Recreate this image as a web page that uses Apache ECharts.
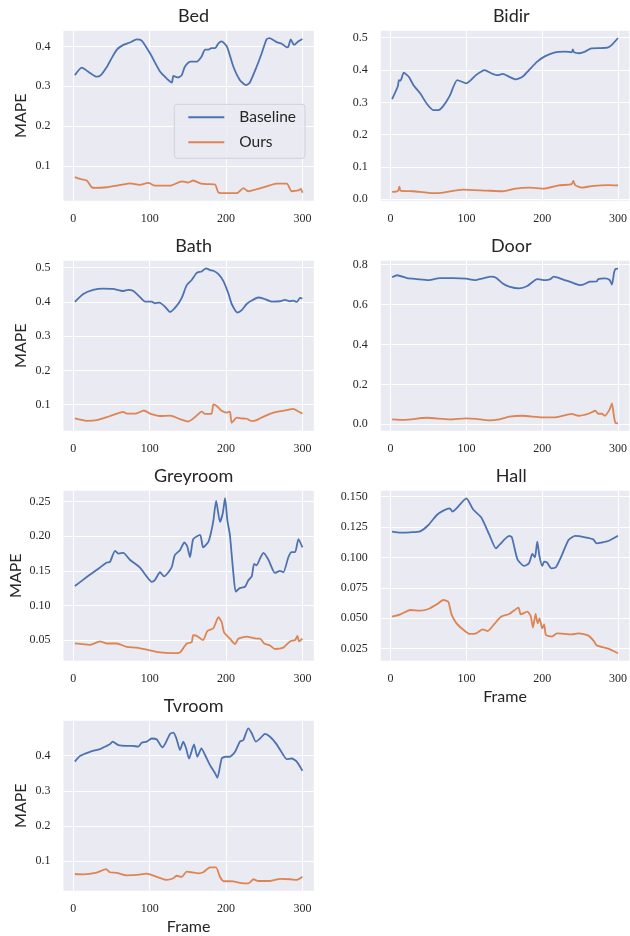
<!DOCTYPE html>
<html><head><meta charset="utf-8">
<script src="https://cdn.jsdelivr.net/npm/echarts@6/dist/echarts.min.js"></script>
<style>html,body{margin:0;padding:0;background:#fff}#c{width:630px;height:936px}</style>
</head><body><div id="c"></div>
<script>
// ---------------- DATA ----------------
const panelNames = ['Bed', 'Bidir', 'Bath', 'Door', 'Greyroom', 'Hall', 'Tvroom'];
const seriesNames = ['Baseline', 'Ours'];
const xTickLabels = ['0', '100', '200', '300'];
const xRange = [-12.9, 314.9];

// [frame, MAPE]
const bedBaseline = [[2,0.328],[11,0.347],[20,0.336],[30.5,0.324],[36,0.328],[44,0.349],[50,0.370],[57,0.392],[65.5,0.404],[74,0.410],[83,0.418],[89.5,0.415],[100.4,0.383],[113.5,0.337],[122,0.320],[129,0.309],[131,0.326],[137.5,0.322],[142,0.328],[146,0.349],[153,0.362],[161.6,0.362],[168,0.375],[172.5,0.392],[177,0.392],[181,0.396],[185.6,0.396],[190,0.408],[194,0.413],[201,0.400],[209.6,0.349],[218,0.316],[226,0.303],[231,0.309],[240,0.349],[246.7,0.383],[253,0.418],[257,0.421],[266,0.411],[273,0.407],[279.5,0.398],[281.7,0.400],[284.7,0.418],[289,0.404],[294.8,0.413],[300,0.419]];
const bedOurs = [[2,0.0714],[8.7,0.0671],[17.5,0.063],[24,0.046],[28,0.0444],[43.7,0.046],[57,0.050],[74,0.056],[87,0.052],[98,0.057],[107,0.050],[126.6,0.050],[142,0.061],[150.6,0.058],[157,0.063],[166,0.056],[174.7,0.054],[185.6,0.053],[190,0.033],[201,0.031],[214,0.031],[222.7,0.044],[229,0.036],[240,0.041],[253,0.048],[266,0.055],[279.5,0.055],[286,0.036],[294.8,0.038],[298,0.042],[300,0.032]];

const bidirBaseline = [[2,0.310],[9.6,0.350],[11,0.369],[13,0.367],[17.4,0.392],[24,0.379],[30,0.354],[39,0.328],[48,0.295],[56.5,0.276],[63,0.276],[69.6,0.289],[78,0.320],[88,0.369],[100,0.359],[113,0.385],[124,0.400],[132.6,0.390],[141,0.384],[148,0.388],[156.5,0.379],[165,0.371],[174,0.379],[182.6,0.400],[193.5,0.426],[204,0.443],[217,0.455],[230,0.457],[239,0.455],[240.4,0.464],[242,0.455],[248.7,0.452],[256.5,0.457],[265,0.467],[278,0.468],[287,0.470],[293.5,0.482],[300,0.499]];
const bidirOurs = [[2,0.023],[9.6,0.026],[11.7,0.039],[13,0.027],[30,0.025],[56.5,0.019],[69.6,0.021],[95.6,0.030],[126,0.027],[148,0.025],[165,0.033],[182.6,0.036],[202,0.033],[221.7,0.043],[239,0.047],[241,0.057],[243.5,0.044],[252,0.036],[265,0.041],[287,0.044],[300,0.043]];

const bathBaseline = [[2,0.400],[13,0.423],[26,0.435],[39,0.439],[52,0.438],[65.5,0.432],[72,0.435],[78.6,0.432],[87,0.415],[94,0.401],[102.6,0.401],[107,0.396],[112.7,0.398],[120,0.386],[126.6,0.371],[135,0.388],[142,0.412],[148.5,0.449],[155,0.464],[161.6,0.485],[168,0.489],[173.8,0.498],[179,0.493],[183.4,0.491],[190,0.481],[196.5,0.461],[203,0.425],[207.4,0.394],[215,0.369],[220.5,0.376],[227,0.394],[233.6,0.404],[242,0.413],[249,0.410],[260,0.401],[270.7,0.402],[277,0.406],[284,0.402],[288,0.404],[292.6,0.400],[297,0.412],[300,0.410]];
const bathOurs = [[2,0.060],[17.5,0.053],[30.5,0.055],[48,0.067],[65.5,0.079],[70,0.074],[83,0.075],[92.5,0.083],[100.4,0.074],[113.5,0.067],[126.6,0.068],[139.7,0.058],[150.6,0.051],[159.4,0.064],[168,0.080],[172.5,0.073],[181,0.074],[183.4,0.101],[187.8,0.096],[194.3,0.082],[201,0.077],[205,0.080],[207.4,0.047],[214,0.062],[220.5,0.060],[227,0.059],[233.6,0.052],[240,0.055],[249,0.065],[262,0.077],[279.5,0.084],[288,0.088],[294.8,0.080],[300,0.074]];

const doorBaseline = [[2,0.737],[8.7,0.747],[21.7,0.733],[34.8,0.728],[50,0.723],[65,0.733],[82.6,0.733],[100,0.730],[111,0.723],[122,0.732],[132.6,0.740],[139,0.735],[148,0.706],[156.5,0.690],[169.6,0.681],[180.4,0.693],[193.5,0.728],[204,0.723],[210.9,0.728],[215,0.740],[226,0.728],[239,0.711],[250,0.698],[254,0.700],[263,0.715],[271.7,0.716],[274,0.728],[282.6,0.731],[289,0.723],[292,0.700],[294.8,0.760],[296.5,0.778],[300,0.780]];
const doorOurs = [[2,0.025],[17.4,0.022],[48,0.033],[78,0.025],[100,0.030],[113,0.027],[130,0.020],[143.5,0.025],[156.5,0.038],[174,0.043],[200,0.035],[217,0.035],[239,0.052],[248,0.043],[261,0.053],[270,0.068],[274,0.053],[278.6,0.053],[282.6,0.043],[289,0.075],[292,0.105],[294.8,0.038],[296.5,0.008],[300,0.005]];

const greyroomBaseline = [[2,0.128],[17.5,0.141],[35,0.155],[43.7,0.162],[48,0.163],[54.6,0.179],[59,0.175],[65.5,0.176],[74,0.166],[87,0.155],[96,0.142],[102.6,0.134],[107,0.137],[113.5,0.148],[119,0.142],[124.5,0.148],[129,0.156],[133,0.173],[139.7,0.180],[145.4,0.191],[149,0.186],[152.8,0.170],[157,0.196],[166,0.202],[170,0.184],[176.8,0.192],[180,0.204],[183.4,0.223],[187,0.251],[192,0.221],[195.6,0.233],[198.7,0.255],[201.7,0.223],[205,0.202],[209.6,0.146],[212.7,0.120],[218,0.125],[224.9,0.127],[229,0.136],[233.6,0.142],[236.7,0.160],[240,0.158],[244.5,0.168],[249,0.176],[255.5,0.166],[264,0.147],[270.7,0.150],[275,0.148],[281.7,0.170],[286,0.177],[290.4,0.177],[294.8,0.196],[300,0.184]];
const greyroomOurs = [[2,0.045],[21.8,0.043],[35,0.048],[43.7,0.045],[57,0.045],[70,0.040],[83,0.039],[96,0.036],[113.5,0.032],[131,0.031],[139.7,0.032],[148.5,0.045],[155,0.047],[157,0.057],[161.6,0.056],[170,0.050],[175.5,0.063],[183.4,0.067],[190,0.083],[194.3,0.076],[197.4,0.061],[205,0.052],[211.8,0.044],[216,0.052],[227,0.055],[240,0.052],[244.5,0.052],[249.8,0.045],[257.6,0.042],[264,0.037],[275,0.039],[283.8,0.048],[290.4,0.050],[293.5,0.056],[295.6,0.048],[300,0.052]];

const hallBaseline = [[2,0.1212],[13,0.1204],[26,0.1207],[39,0.1215],[50,0.1267],[61,0.1349],[69.6,0.1385],[78,0.1404],[81.7,0.1377],[87,0.1404],[100,0.1486],[108.7,0.1396],[119.5,0.1330],[130.4,0.1185],[139,0.1075],[143.5,0.1103],[156.5,0.1177],[160,0.1166],[167.4,0.0985],[176,0.0930],[182.6,0.0952],[187,0.1029],[190.4,0.1001],[193.5,0.1130],[196.5,0.1007],[200,0.0930],[202.6,0.0965],[206.5,0.0957],[212,0.0911],[218,0.0919],[226,0.1020],[234.8,0.1144],[243.5,0.1177],[256.5,0.1166],[267.4,0.1149],[271.7,0.1116],[278,0.1122],[287,0.1135],[300,0.1179]];
const hallOurs = [[2,0.0513],[13,0.0532],[26,0.0568],[39,0.0563],[50,0.0576],[61,0.0615],[69.6,0.0650],[76,0.0637],[80.4,0.0532],[87,0.0458],[98,0.0395],[104,0.0371],[113,0.0376],[121.7,0.0409],[128,0.0395],[137,0.0453],[145.6,0.0513],[156.5,0.0535],[168.7,0.0587],[171.7,0.0532],[180.4,0.0554],[184.8,0.0519],[187.8,0.0423],[191.3,0.0535],[194,0.0458],[196.5,0.0499],[200,0.0417],[202.6,0.0450],[205,0.0362],[213,0.0349],[219.5,0.0376],[239,0.0368],[248,0.0376],[261,0.0357],[268.7,0.0308],[271.7,0.0277],[287,0.0250],[300,0.0212]];

const tvroomBaseline = [[2,0.383],[8.7,0.399],[21.8,0.411],[35,0.419],[43.7,0.428],[48,0.433],[51.5,0.440],[59,0.430],[70,0.428],[76.4,0.428],[85,0.426],[89.5,0.437],[96,0.440],[102.6,0.449],[109,0.447],[116.6,0.424],[120,0.433],[126.6,0.462],[131,0.466],[135,0.449],[139.7,0.416],[144,0.440],[147.6,0.421],[151.5,0.392],[158,0.432],[162.4,0.397],[167.7,0.421],[172.5,0.402],[179,0.373],[185.6,0.350],[188.6,0.337],[194.3,0.392],[198.7,0.397],[205,0.397],[211.8,0.411],[218,0.440],[222.7,0.445],[229,0.478],[233.6,0.464],[239,0.440],[244.5,0.449],[251,0.462],[257.6,0.454],[266,0.433],[275,0.402],[279.5,0.390],[286,0.392],[292.6,0.383],[300,0.357]];
const tvroomOurs = [[2,0.063],[13,0.062],[30.5,0.067],[42.8,0.077],[48,0.068],[57,0.066],[70,0.059],[87,0.061],[96,0.064],[109,0.055],[122,0.046],[131,0.051],[135,0.058],[142,0.055],[148.5,0.070],[157,0.067],[163.8,0.065],[170,0.068],[179,0.082],[186.8,0.082],[192,0.055],[196.5,0.043],[209.6,0.042],[218,0.038],[229,0.036],[236,0.048],[242,0.043],[257.6,0.043],[270.7,0.049],[284,0.048],[292.6,0.046],[300,0.055]];

// y tick labels per panel
const bedYTicks = ['0.1', '0.2', '0.3', '0.4'];
const bidirYTicks = ['0.0', '0.1', '0.2', '0.3', '0.4', '0.5'];
const bathYTicks = ['0.1', '0.2', '0.3', '0.4', '0.5'];
const doorYTicks = ['0.0', '0.2', '0.4', '0.6', '0.8'];
const greyroomYTicks = ['0.05', '0.10', '0.15', '0.20', '0.25'];
const hallYTicks = ['0.025', '0.050', '0.075', '0.100', '0.125', '0.150'];
const tvroomYTicks = ['0.1', '0.2', '0.3', '0.4'];

// y axis limits per panel
const bedYRange = [0.0122, 0.4397];
const bidirYRange = [-0.0043, 0.5217];
const bathYRange = [0.0241, 0.5204];
const doorYRange = [-0.032, 0.820];
const greyroomYRange = [0.0201, 0.2659];
const hallYRange = [0.0151, 0.1549];
const tvroomYRange = [0.0154, 0.4997];

// ---------------- LAYOUT / STYLE ----------------
const panels = [
  {base: bedBaseline, ours: bedOurs, ticks: bedYTicks, range: bedYRange},
  {base: bidirBaseline, ours: bidirOurs, ticks: bidirYTicks, range: bidirYRange},
  {base: bathBaseline, ours: bathOurs, ticks: bathYTicks, range: bathYRange},
  {base: doorBaseline, ours: doorOurs, ticks: doorYTicks, range: doorYRange},
  {base: greyroomBaseline, ours: greyroomOurs, ticks: greyroomYTicks, range: greyroomYRange},
  {base: hallBaseline, ours: hallOurs, ticks: hallYTicks, range: hallYRange},
  {base: tvroomBaseline, ours: tvroomOurs, ticks: tvroomYTicks, range: tvroomYRange}
];
const colLeft = [63.5, 380.8];
const colWidth = [250.3, 250.9];
const rowTop = [30.7, 260.7, 490.7, 720.7];
const plotH = 170;
const BLUE = '#4c72b0', ORANGE = '#dd8452';
const TXT = '#262626';
const SANS = 'Lato, "Open Sans", sans-serif';
const SERIF = '"Liberation Serif", "DejaVu Serif", serif';

const grids = [], xAxes = [], yAxes = [], series = [], titles = [];
panels.forEach((p, i) => {
  const col = i % 2, row = Math.floor(i / 2);
  const left = colLeft[col], top = rowTop[row], w = colWidth[col];
  grids.push({left: left, top: top, width: w, height: plotH, show: true,
    backgroundColor: '#eaeaf2', borderWidth: 0, containLabel: false});
  titles.push({text: panelNames[i], left: left + w / 2, top: top - 29, textAlign: 'center',
    textStyle: {fontFamily: SANS, fontSize: 18, fontWeight: 'normal', color: TXT}});
  const xVals = xTickLabels.map(Number);
  const showFrame = (i === 5 || i === 6);
  xAxes.push({type: 'value', gridIndex: i, min: xRange[0], max: xRange[1],
    axisLine: {show: false},
    axisTick: {show: false, customValues: xVals},
    axisLabel: {customValues: xVals, margin: 12, color: TXT, fontFamily: SERIF, fontSize: 12,
      formatter: v => String(Math.round(v))},
    splitLine: {show: true, lineStyle: {color: '#ffffff', width: 1}},
    name: showFrame ? 'Frame' : '', nameLocation: 'middle', nameGap: 28,
    nameTextStyle: {fontFamily: SANS, fontSize: 16, color: TXT}
  });
  const yVals = p.ticks.map(Number);
  const labelMap = {};
  p.ticks.forEach(t => { labelMap[Number(t).toFixed(4)] = t; });
  yAxes.push({type: 'value', gridIndex: i, min: p.range[0], max: p.range[1],
    axisLine: {show: false},
    axisTick: {show: false, customValues: yVals},
    axisLabel: {customValues: yVals, margin: 13, color: TXT, fontFamily: SERIF, fontSize: 12,
      formatter: v => labelMap[Number(v).toFixed(4)] || ''},
    splitLine: {show: true, lineStyle: {color: '#ffffff', width: 1}},
    name: col === 0 ? 'MAPE' : '', nameLocation: 'middle', nameRotate: 90,
    nameGap: i === 4 ? 40 : 35,
    nameTextStyle: {fontFamily: SANS, fontSize: 16, color: TXT}
  });
  series.push({name: seriesNames[0], type: 'line', xAxisIndex: i, yAxisIndex: i, data: p.base,
    symbol: 'none', showSymbol: false, smooth: 0.2, lineStyle: {width: 1.8, color: BLUE}, itemStyle: {color: BLUE}, z: 3});
  series.push({name: seriesNames[1], type: 'line', xAxisIndex: i, yAxisIndex: i, data: p.ours,
    symbol: 'none', showSymbol: false, smooth: 0.2, lineStyle: {width: 1.8, color: ORANGE}, itemStyle: {color: ORANGE}, z: 3});
});

const chart = echarts.init(document.getElementById('c'), null, {renderer: 'canvas'});
chart.setOption({
  animation: false,
  backgroundColor: '#ffffff',
  title: titles,
  grid: grids,
  xAxis: xAxes,
  yAxis: yAxes,
  legend: {
    data: seriesNames, orient: 'vertical', left: 174.3, top: 104.3,
    padding: [4, 9, 7, 14], itemGap: 7, itemWidth: 36, itemHeight: 2, icon: 'rect',
    backgroundColor: 'rgba(234,234,242,0.8)', borderColor: '#d0d0d8', borderWidth: 1, borderRadius: 3,
    textStyle: {fontFamily: SANS, fontSize: 15.5, color: TXT, lineHeight: 18, padding: [0, 0, 0, 10]},
    selectedMode: false
  },
  series: series
});
</script>
</body></html>
